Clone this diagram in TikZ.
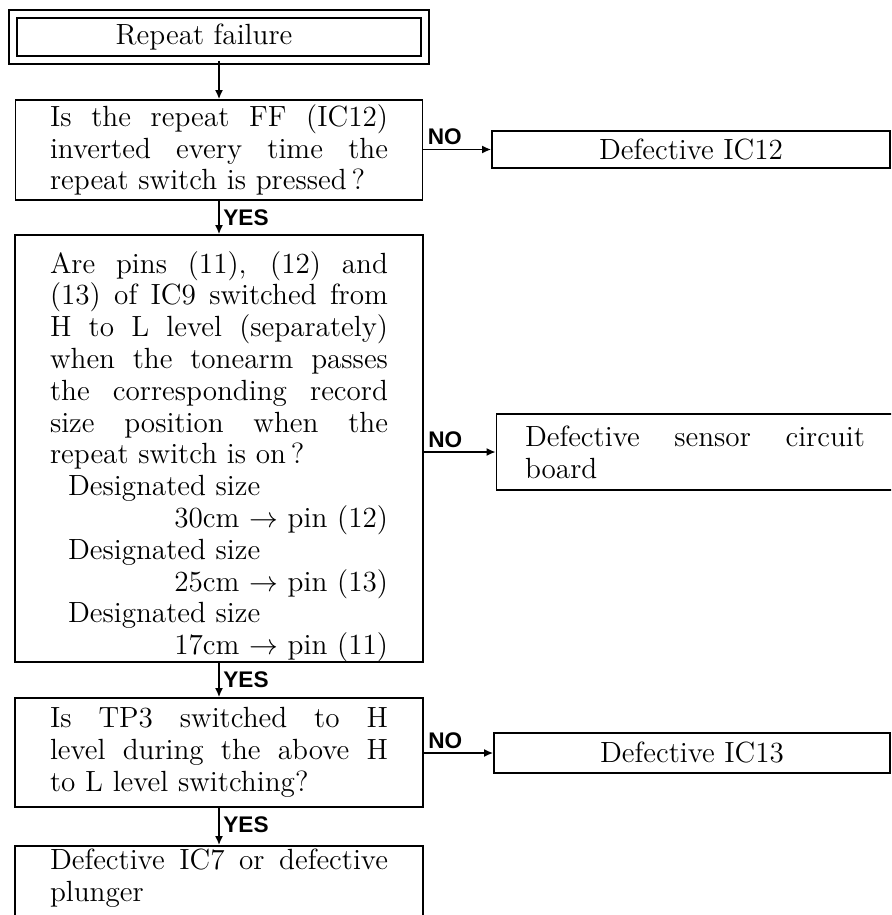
\documentclass[tikz,border=0pt]{standalone}
\usepackage{fontspec}
\newfontfamily\labfont{Liberation Sans}
\usetikzlibrary{arrows.meta,calc}
\newcommand\jl[1]{\makebox[\hsize][s]{\spaceskip=0.333em plus 20em\relax #1}\\}
\newcommand\rl[1]{\makebox[\hsize][r]{#1}}
\begin{document}
\begin{tikzpicture}[x=0.5pt,y=-0.5pt,
  box/.style={draw, line width=0.9pt, inner sep=0pt, font=\fontsize{14.6}{15.9}\selectfont},
  txt/.style={text width=169pt, align=left},
  lab/.style={font=\labfont\bfseries\fontsize{11.3}{13}\selectfont, inner sep=0pt},
  arr/.style={line width=0.75pt, -{Latex[length=4.5pt,width=4pt]}}]
\clip (0,0) rectangle (891,915);
\fill[white] (0,0) rectangle (891,915);

\node[box, double, double distance=3pt, minimum width=206pt, minimum height=23pt] (start) at (219,37) {Repeat failure\hspace*{15pt}};

\node[box, txt, minimum width=203.5pt, minimum height=50pt] (q1) at (219,150)
  {\jl{Is the repeat FF (IC12)}\jl{inverted every time the}repeat switch is pressed\,?};

\node[box, txt, minimum width=204pt, minimum height=211.5pt] (q2) at (219,448.5)
  {\jl{\rule{0pt}{19pt}Are pins (11), (12) and}\jl{(13) of IC9 switched from}\jl{H to L level (separately)}\jl{when the tonearm passes}\jl{the corresponding record}\jl{size position when the}repeat switch is on\,?\\
   \hspace*{9pt}Designated size\\
   \rl{30cm $\rightarrow$ pin (12)}\\
   \hspace*{9pt}Designated size\\
   \rl{25cm $\rightarrow$ pin (13)}\\
   \hspace*{9pt}Designated size\\
   \rl{17cm $\rightarrow$ pin (11)}};

\node[box, txt, minimum width=204pt, minimum height=54.5pt] (q3) at (219,752.5)
  {\jl{Is TP3 switched to H}\jl{level during the above H}to L level switching?};

\node[box, txt, anchor=north, minimum width=204pt, inner ysep=1.5pt, text depth=60pt] (q4) at (219,845)
  {\jl{Defective IC7 or defective}plunger};

\node[box, minimum width=199pt, minimum height=18.5pt] (n1) at (691,149.5) {Defective IC12};
\node[box, text width=170pt, align=left, minimum width=198.5pt, minimum height=38pt] (n2) at (695,452)
  {\jl{Defective sensor circuit}board};
\node[box, minimum width=198pt, minimum height=20pt] (n3) at (692,753) {Defective IC13};

\draw[arr] (start.south) -- (q1.north);
\draw[arr] (q1.south) -- (q2.north);
\draw[arr] (q2.south) -- (q3.north);
\draw[arr] (q3.south) -- (q4.north);

\draw[arr] (q1.east |- n1.west) -- (n1.west);
\draw[arr] (q2.east |- n2.west) -- (n2.west);
\draw[arr] (q3.east |- n3.west) -- (n3.west);

\node[lab, anchor=south west] (no1) at ($(q1.east |- n1.west)+(4,-4)$) {NO};
\node[lab, anchor=south west] (no2) at ($(q2.east |- n2.west)+(4,-4)$) {NO};
\node[lab, anchor=south west] (no3) at ($(q3.east |- n3.west)+(4,-4)$) {NO};

\node[lab, anchor=north west] (yes1) at ($(q1.south)+(4,8)$) {YES};
\node[lab, anchor=north west] (yes2) at ($(q2.south)+(4,8)$) {YES};
\node[lab, anchor=north west] (yes3) at ($(q3.south)+(4,8)$) {YES};
\end{tikzpicture}
\end{document}
